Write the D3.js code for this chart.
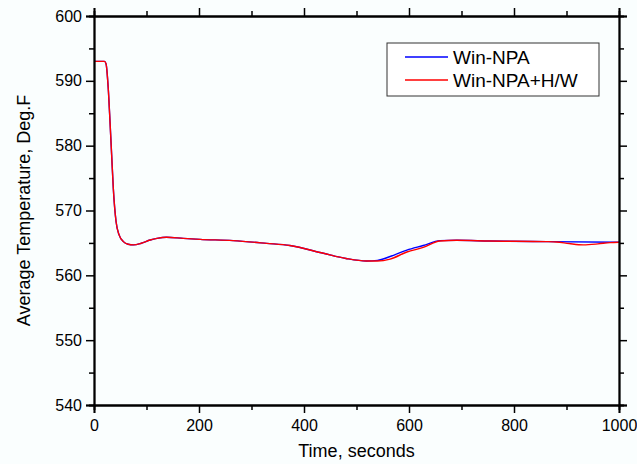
<!DOCTYPE html>
<html>
<head>
<meta charset="utf-8">
<script src="https://cdn.jsdelivr.net/npm/d3@7"></script>
<style>
  html, body { margin: 0; padding: 0; background: #fafefe; }
  svg { display: block; font-family: 'Liberation Sans', Arial, sans-serif; }
</style>
</head>
<body>
<div id="chart"></div>
<script>
// time (s) and average temperature (deg F)
var timeBlue = [0, 20, 23, 27, 30.5, 33.6, 36.8, 42, 48, 56, 65, 75, 90, 107, 120, 138, 170, 202, 265, 329, 373, 437, 480, 519, 540, 564, 596, 627, 659, 691, 754, 862, 1000];
var tempBlue = [593, 593, 592.6, 589, 583.7, 578.6, 573.4, 568.3, 566.2, 565.2, 564.8, 564.7, 564.95, 565.45, 565.7, 565.87, 565.7, 565.55, 565.35, 564.93, 564.6, 563.4, 562.6, 562.2, 562.3, 562.9, 563.9, 564.6, 565.35, 565.4, 565.3, 565.2, 565.1];
var timeRed = [0, 20, 23, 27, 30.5, 33.6, 36.8, 42, 48, 56, 65, 75, 90, 107, 120, 138, 170, 202, 265, 329, 373, 437, 480, 519, 540, 564, 596, 627, 659, 691, 754, 862, 881, 905, 932, 960, 983, 1000];
var tempRed = [593, 593, 592.6, 589, 583.7, 578.6, 573.4, 568.3, 566.2, 565.2, 564.8, 564.7, 564.95, 565.45, 565.7, 565.87, 565.7, 565.55, 565.35, 564.93, 564.6, 563.4, 562.6, 562.2, 562.2, 562.5, 563.6, 564.3, 565.3, 565.4, 565.3, 565.2, 565.15, 564.9, 564.7, 564.85, 565.05, 565.1];
var seriesNames = ['Win-NPA', 'Win-NPA+H/W'];
var seriesColors = ['#0000ff', '#ff0000'];
var xMajor = [0, 200, 400, 600, 800, 1000];
var xMinor = [100, 300, 500, 700, 900];
var yMajor = [540, 550, 560, 570, 580, 590, 600];
var yMinor = [545, 555, 565, 575, 585, 595];

var width = 637, height = 464;
var margin = {top: 16, right: 18, bottom: 59, left: 94};
var w = width - margin.left - margin.right;
var h = height - margin.top - margin.bottom;

var svg = d3.select('#chart').append('svg')
    .attr('width', width)
    .attr('height', height);
var g = svg.append('g').attr('transform', 'translate(' + margin.left + ',' + margin.top + ')');

var x = d3.scaleLinear().domain([0, 1000]).range([0, w]);
var y = d3.scaleLinear().domain([540, 600]).range([h, 0]);

function zip(t, v) {
    return t.map(function(d, i) { return {t: d, v: v[i]}; });
}
var series = [zip(timeBlue, tempBlue), zip(timeRed, tempRed)];

var line = d3.line()
    .x(function(d) { return x(d.t); })
    .y(function(d) { return y(d.v); })
    .curve(d3.curveMonotoneX);

series.forEach(function(s, i) {
    g.append('path')
        .datum(s)
        .attr('d', line)
        .attr('fill', 'none')
        .attr('stroke', seriesColors[i])
        .attr('stroke-width', 1.4);
});

// axes: major ticks with labels, minor ticks without, mirrored on all four sides
function styleAxis(sel) {
    sel.select('.domain').attr('stroke', '#000').attr('stroke-width', 1.8);
    sel.selectAll('.tick line').attr('stroke', '#000').attr('stroke-width', 1.5);
    sel.selectAll('.tick text').attr('fill', '#000').style('font-size', '16px');
}

g.append('g').attr('transform', 'translate(0,' + h + ')')
    .call(d3.axisBottom(x).tickValues(xMajor).tickSize(8).tickPadding(7).tickFormat(d3.format('d')))
    .call(styleAxis);
g.append('g').attr('transform', 'translate(0,' + h + ')')
    .call(d3.axisBottom(x).tickValues(xMinor).tickSize(5).tickFormat(''))
    .call(styleAxis);
g.append('g')
    .call(d3.axisTop(x).tickValues(xMajor).tickSize(8).tickFormat(''))
    .call(styleAxis);
g.append('g')
    .call(d3.axisTop(x).tickValues(xMinor).tickSize(5).tickFormat(''))
    .call(styleAxis);

g.append('g')
    .call(d3.axisLeft(y).tickValues(yMajor).tickSize(8).tickPadding(4).tickFormat(d3.format('d')))
    .call(styleAxis);
g.append('g')
    .call(d3.axisLeft(y).tickValues(yMinor).tickSize(5).tickFormat(''))
    .call(styleAxis);
g.append('g').attr('transform', 'translate(' + w + ',0)')
    .call(d3.axisRight(y).tickValues(yMajor).tickSize(8).tickFormat(''))
    .call(styleAxis);
g.append('g').attr('transform', 'translate(' + w + ',0)')
    .call(d3.axisRight(y).tickValues(yMinor).tickSize(5).tickFormat(''))
    .call(styleAxis);

// axis titles
svg.append('text')
    .attr('x', margin.left + w / 2)
    .attr('y', 457)
    .attr('text-anchor', 'middle')
    .style('font-size', '18px')
    .text('Time, seconds');
svg.append('text')
    .attr('transform', 'translate(30,' + (margin.top + h / 2) + ') rotate(-90)')
    .attr('text-anchor', 'middle')
    .style('font-size', '18px')
    .text('Average Temperature, Deg.F');

// legend
var lg = svg.append('g').attr('transform', 'translate(387,43)');
lg.append('rect')
    .attr('width', 212)
    .attr('height', 53)
    .attr('fill', '#fff')
    .attr('stroke', '#333')
    .attr('stroke-width', 1);
seriesNames.forEach(function(name, i) {
    var yy = 14 + i * 23;
    lg.append('line')
        .attr('x1', 18).attr('x2', 61)
        .attr('y1', yy).attr('y2', yy)
        .attr('stroke', seriesColors[i])
        .attr('stroke-width', 1.4);
    lg.append('text')
        .attr('x', 66)
        .attr('y', yy + 7)
        .style('font-size', '19px')
        .text(name);
});
</script>
</body>
</html>
